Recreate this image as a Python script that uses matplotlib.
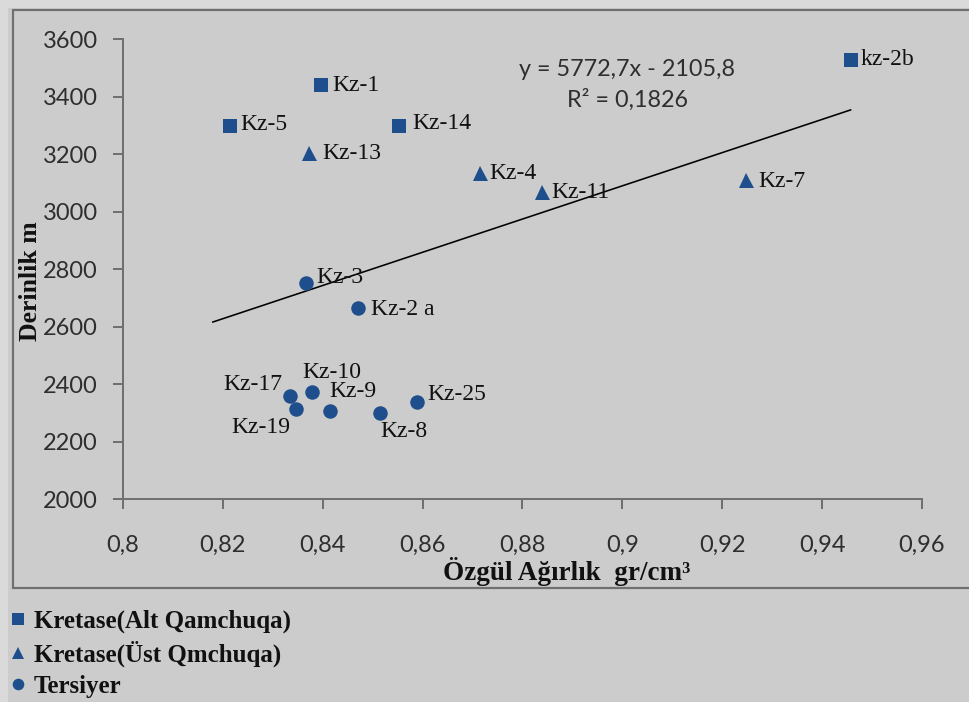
import matplotlib
matplotlib.use("Agg")
import matplotlib.pyplot as plt
from matplotlib.patches import Rectangle

# ---- data -------------------------------------------------------------
alt_names = ["Kz-5", "Kz-1", "Kz-14", "kz-2b"]
alt_x = [0.8214, 0.8396, 0.8552, 0.9457]
alt_y = [3299, 3440, 3296, 3527]

ust_names = ["Kz-13", "Kz-4", "Kz-11", "Kz-7"]
ust_x = [0.8373, 0.8714, 0.8839, 0.9248]
ust_y = [3205, 3133, 3069, 3110]

ter_names = ["Kz-3", "Kz-2 a", "Kz-17", "Kz-19", "Kz-10", "Kz-9", "Kz-8", "Kz-25"]
ter_x = [0.8367, 0.8471, 0.8335, 0.8347, 0.8378, 0.8415, 0.8514, 0.8588]
ter_y = [2751, 2664, 2360, 2314, 2372, 2308, 2299, 2339]

series_labels = ["Kretase(Alt Qamchuqa)", "Kretase(Üst Qmchuqa)", "Tersiyer"]

trend_slope = 5772.7
trend_intercept = -2105.8
trend_r2 = 0.1826
trend_x_range = [0.818, 0.9457]

x_ticks = [0.80, 0.82, 0.84, 0.86, 0.88, 0.90, 0.92, 0.94, 0.96]
x_tick_labels = ["0,8", "0,82", "0,84", "0,86", "0,88", "0,9", "0,92", "0,94", "0,96"]
y_ticks = [2000, 2200, 2400, 2600, 2800, 3000, 3200, 3400, 3600]

# ---- style ------------------------------------------------------------
W, H = 970, 702
BLUE = "#1F4E8C"
AXIS_GRAY = "#707070"
SANS = ["Lato", "DejaVu Sans"]
SERIF = ["Liberation Serif", "DejaVu Serif"]

# label offsets in pixels (dx, dy upward) and alignment
label_place = {
    "Kz-5": (10, 1, "left", "center"),
    "Kz-1": (12, 0, "left", "center"),
    "Kz-14": (14, 3, "left", "center"),
    "kz-2b": (10, 1, "left", "center"),
    "Kz-13": (13, -1, "left", "center"),
    "Kz-4": (10, 0, "left", "center"),
    "Kz-11": (9, -1, "left", "center"),
    "Kz-7": (12, -2, "left", "center"),
    "Kz-3": (10, 6, "left", "center"),
    "Kz-2 a": (13, -1, "left", "center"),
    "Kz-17": (-8, 11, "right", "center"),
    "Kz-19": (-6, -19, "right", "center"),
    "Kz-10": (-9, 20, "left", "center"),
    "Kz-9": (-1, 19, "left", "center"),
    "Kz-8": (1, -18, "left", "center"),
    "Kz-25": (11, 7, "left", "center"),
}

# legend row centres (pixels from top)
legend_rows = [621, 654, 686]

def px(v):
    return v * 72.0 / 100.0

fig = plt.figure(figsize=(W / 100, H / 100), dpi=100, facecolor="#CCCCCC")

# light outer margin and the chart-area frame
fig.patches.append(Rectangle((0, 1 - 8 / H), 1, 8 / H, transform=fig.transFigure,
                             facecolor="#DADADA", edgecolor="none", zorder=-3))
fig.patches.append(Rectangle((0, 0), 8 / W, 1, transform=fig.transFigure,
                             facecolor="#DADADA", edgecolor="none", zorder=-3))
fig.patches.append(Rectangle((13 / W, 1 - 588 / H), 1.2, (588 - 10) / H,
                             transform=fig.transFigure, facecolor="#CCCCCC",
                             edgecolor=AXIS_GRAY, linewidth=px(2.2), zorder=-2,
                             clip_on=False))

ax = fig.add_axes([123 / W, 1 - 499.3 / H, (922 - 123) / W, (499.3 - 39) / H])
ax.set_facecolor("none")
ax.set_xlim(0.8, 0.96)
ax.set_ylim(2000, 3600)

for s in ("top", "right"):
    ax.spines[s].set_visible(False)
for s in ("left", "bottom"):
    ax.spines[s].set_color(AXIS_GRAY)
    ax.spines[s].set_linewidth(px(2))

ax.set_xticks(x_ticks)
ax.set_xticklabels(x_tick_labels)
ax.set_yticks(y_ticks)
ax.tick_params(axis="both", direction="out", length=px(10), width=px(2),
               color=AXIS_GRAY, labelcolor="#2E2E2E", labelsize=17)
ax.tick_params(axis="x", pad=px(26))
ax.tick_params(axis="y", pad=px(15))
for lab in ax.get_xticklabels() + ax.get_yticklabels():
    lab.set_family(SANS)

# trendline
tx = trend_x_range
ty = [trend_slope * v + trend_intercept for v in tx]
ax.plot(tx, ty, color="black", linewidth=px(1.6), zorder=2)

h_alt, = ax.plot(alt_x, alt_y, linestyle="none", marker="s", markersize=px(14),
                 color=BLUE, markeredgewidth=0, zorder=3)
h_ust, = ax.plot(ust_x, ust_y, linestyle="none", marker="^", markersize=px(15),
                 color=BLUE, markeredgewidth=0, zorder=3)
h_ter, = ax.plot(ter_x, ter_y, linestyle="none", marker="o", markersize=px(14.5),
                 color=BLUE, markeredgewidth=0, zorder=3)

for names, xs, ys in ((alt_names, alt_x, alt_y),
                      (ust_names, ust_x, ust_y),
                      (ter_names, ter_x, ter_y)):
    for n, xv, yv in zip(names, xs, ys):
        dx, dy, ha, va = label_place[n]
        ax.annotate(n, (xv, yv), xytext=(px(dx), px(dy)), textcoords="offset points",
                    ha=ha, va=va, fontsize=17, family=SERIF, color="#111111",
                    zorder=4)

# trendline equation
ax.text((627 - 123) / 799, (499.3 - 70) / 460.3,
        "y = 5772,7x - 2105,8", transform=ax.transAxes, ha="center", va="center",
        fontsize=16.8, family=SANS, color="#2E2E2E")
ax.text((628 - 123) / 799, (499.3 - 100) / 460.3,
        f"R² = {trend_r2:.4f}".replace(".", ","), transform=ax.transAxes,
        ha="center", va="center", fontsize=16.8, family=SANS, color="#2E2E2E")

# axis titles
fig.text(567 / W, 1 - 571 / H, "Özgül Ağırlık  gr/cm³", ha="center", va="center",
         fontsize=19.5, fontweight="bold", family=SERIF, color="#111111")
fig.text(31 / W, 1 - 281 / H, "Derinlik m", ha="center", va="center", rotation=90,
         fontsize=18.5, fontweight="bold", family=SERIF, color="#111111")

# legend: one entry per row so each row sits at its own height
for h, lab, row in zip([h_alt, h_ust, h_ter], series_labels, legend_rows):
    leg = fig.legend([h], [lab], loc="center left",
                     bbox_to_anchor=(10 / W, 1 - row / H), frameon=False,
                     prop={"family": SERIF, "weight": "bold", "size": 18},
                     markerscale=0.8, handlelength=0.65, handletextpad=0.3,
                     borderpad=0, borderaxespad=0)
    for t in leg.get_texts():
        t.set_color("#111111")

fig.savefig("out.png", dpi=100, facecolor=fig.get_facecolor())
